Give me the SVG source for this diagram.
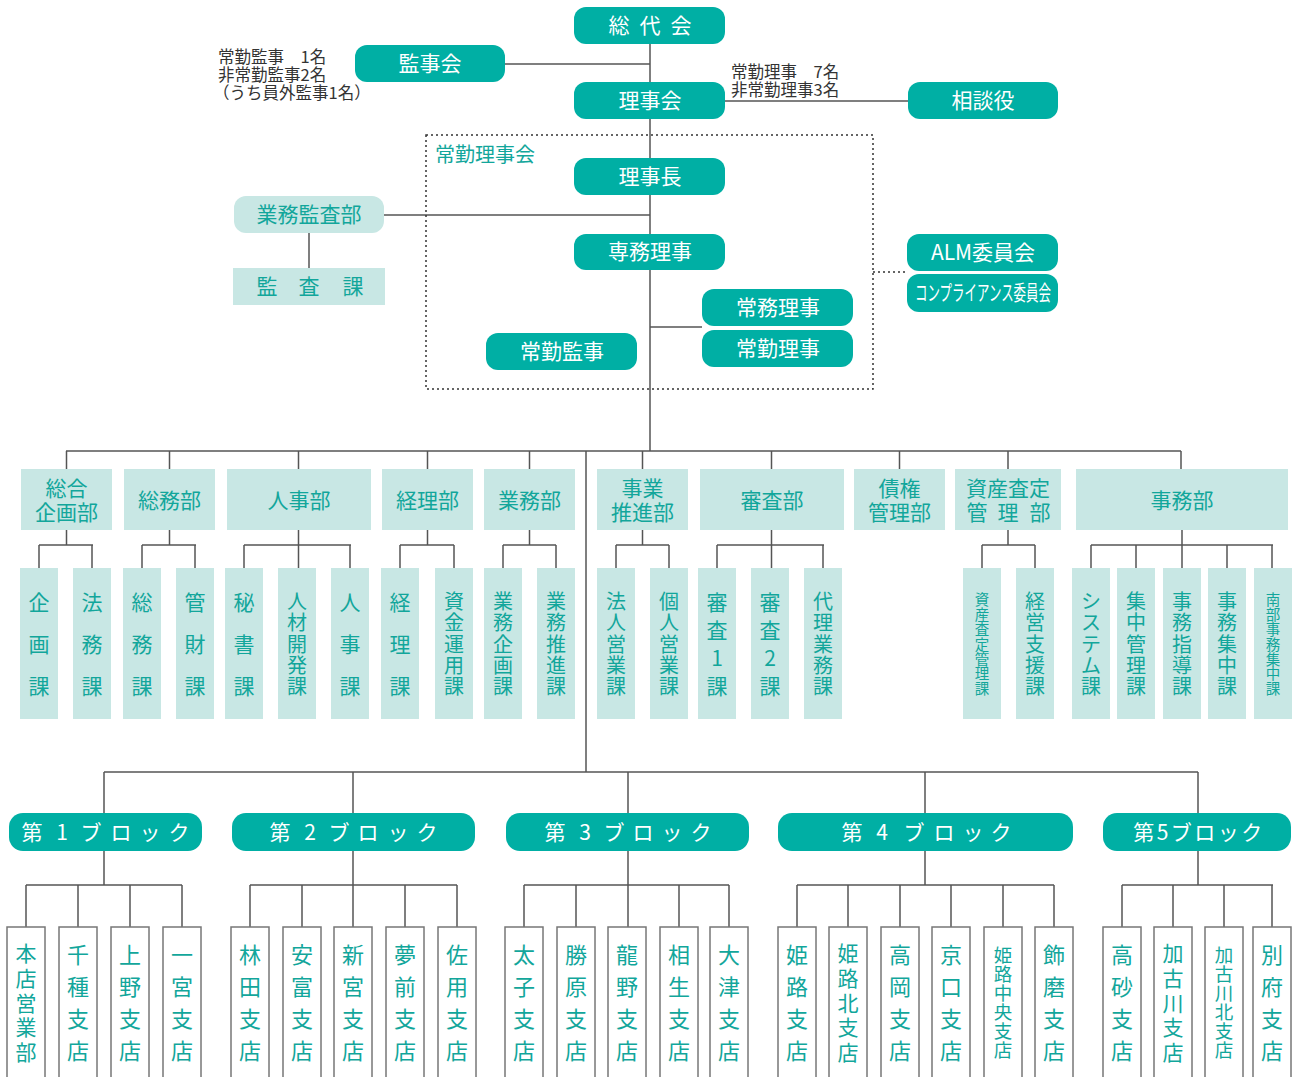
<svg xmlns="http://www.w3.org/2000/svg" width="1294" height="1077" viewBox="0 0 1294 1077">
<style>
text{font-family:"Noto Sans CJK JP","Noto Sans",sans-serif;}
.pill{fill:#00AFA4;}
.pt{fill:#fff;font-size:21px;text-anchor:middle;}
.lite{fill:#C8E7E4;}
.lt{fill:#12A69B;font-size:21px;text-anchor:middle;}
.br{fill:#fff;stroke:#777;stroke-width:1.5;}
.note{fill:#333;font-size:16.5px;}
.ln{stroke:#555;stroke-width:1.5;fill:none;}
.dot{stroke:#333;stroke-width:1.5;fill:none;stroke-dasharray:2 3;}
.s3{font-size:21px;}
.s5{font-size:20px;}
.s7{font-size:14.5px;}
.b4{font-size:22px;}
.b5{font-size:21px;}
.b6{font-size:18.5px;}
</style>
<rect width="1294" height="1077" fill="#fff"/>

<g id="connectors">
<line class="ln" x1="650" y1="44" x2="650" y2="451"/>
<line class="ln" x1="505" y1="64" x2="650" y2="64"/>
<line class="ln" x1="725" y1="101" x2="908" y2="101"/>
<line class="ln" x1="384" y1="215" x2="650" y2="215"/>
<line class="ln" x1="309" y1="233" x2="309" y2="268"/>
<line class="ln" x1="650" y1="327" x2="702" y2="327"/>
<rect class="dot" x="426" y="135" width="447" height="254"/>
<line class="dot" x1="873" y1="272" x2="907" y2="272"/>
<line class="ln" x1="66" y1="451" x2="1181" y2="451"/>
<path class="ln" d="M66.5 451V469M169.5 451V469M298.5 451V469M427.5 451V469M529.5 451V469M642.5 451V469M771.5 451V469M899.5 451V469M1008 451V469M1181 451V469"/>
<line class="ln" x1="586" y1="451" x2="586" y2="772"/>
<path class="ln" d="M66.5 530V545M39 545H93M39 545V568M92 545V568"/>
<path class="ln" d="M169.5 530V545M142 545H196M142 545V568M195 545V568"/>
<path class="ln" d="M298.5 530V568M244 545H351M244 545V568M350 545V568"/>
<path class="ln" d="M427.5 530V545M400 545H454M400 545V568M454 545V568"/>
<path class="ln" d="M529.5 530V545M503 545H556M503 545V568M556 545V568"/>
<path class="ln" d="M642.5 530V545M616 545H669M616 545V568M669 545V568"/>
<path class="ln" d="M771.5 530V568M717 545H824M717 545V568M823 545V568"/>
<path class="ln" d="M1008 530V545M982 545H1035M982 545V568M1035 545V568"/>
<path class="ln" d="M1182 530V568M1091 545H1273M1091 545V568M1136 545V568M1227 545V568M1272 545V568"/>
<line class="ln" x1="104" y1="772" x2="1198" y2="772"/>
<path class="ln" d="M104 772V813M353 772V813M628 772V813M925 772V813M1198 772V813"/>
<path class="ln" d="M104 851V885M26 885H182M26 885V927M78 885V927M130 885V927M182 885V927"/>
<path class="ln" d="M353 851V927M250 885H457M250 885V927M302 885V927M405 885V927M457 885V927"/>
<path class="ln" d="M628 851V927M524 885H729M524 885V927M576 885V927M679 885V927M729 885V927"/>
<path class="ln" d="M925 851V885M797 885H1054M797 885V927M848 885V927M900 885V927M951 885V927M1003 885V927M1054 885V927"/>
<path class="ln" d="M1198 851V885M1122 885H1273M1122 885V927M1173 885V927M1224 885V927M1272 885V927"/>
</g>

<text class="note" x="218" y="63">常勤監事　1名</text>
<text class="note" x="218" y="81">非常勤監事2名</text>
<text class="note" x="213" y="99">（うち員外監事1名）</text>
<text class="note" x="731" y="78">常勤理事　7名</text>
<text class="note" x="731" y="96">非常勤理事3名</text>

<g id="n-sodaikai"><rect class="pill" x="574" y="7" width="151" height="37" rx="12"/><text class="pt"><tspan x="619" y="33">総</tspan><tspan x="650" y="33">代</tspan><tspan x="681" y="33">会</tspan></text></g>
<g id="n-kanjikai"><rect class="pill" x="355" y="45" width="150" height="37" rx="12"/><text class="pt" x="430" y="71">監事会</text></g>
<g id="n-rijikai"><rect class="pill" x="574" y="82" width="151" height="37" rx="12"/><text class="pt" x="650" y="108">理事会</text></g>
<g id="n-sodanyaku"><rect class="pill" x="908" y="82" width="150" height="37" rx="12"/><text class="pt" x="983" y="108">相談役</text></g>
<text x="435" y="162" fill="#12A69B" font-size="20">常勤理事会</text>
<g id="n-rijicho"><rect class="pill" x="574" y="158" width="151" height="37" rx="12"/><text class="pt" x="650" y="184">理事長</text></g>
<g id="n-gyomukansa"><rect class="lite" x="234" y="196" width="150" height="37" rx="12"/><text class="lt" x="309" y="222">業務監査部</text></g>
<g id="n-kansaka"><rect class="lite" x="233" y="268" width="152" height="37"/><text class="lt"><tspan x="267" y="294">監</tspan><tspan x="309" y="294">査</tspan><tspan x="353" y="294">課</tspan></text></g>
<g id="n-senmu"><rect class="pill" x="574" y="234" width="151" height="36" rx="12"/><text class="pt" x="650" y="259">専務理事</text></g>
<g id="n-jomu"><rect class="pill" x="702" y="289" width="151" height="37" rx="12"/><text class="pt" x="778" y="315">常務理事</text></g>
<g id="n-jokinriji"><rect class="pill" x="702" y="330" width="151" height="37" rx="12"/><text class="pt" x="778" y="356">常勤理事</text></g>
<g id="n-jokinkanji"><rect class="pill" x="486" y="333" width="151" height="37" rx="12"/><text class="pt" x="562" y="359">常勤監事</text></g>
<g id="n-alm"><rect class="pill" x="907" y="234" width="151" height="37" rx="12"/><text class="pt" x="983" y="260">ALM委員会</text></g>
<g id="n-comp"><rect class="pill" x="907" y="274" width="151" height="38" rx="12"/><text class="pt" x="983" y="300" font-size="19" textLength="136" lengthAdjust="spacingAndGlyphs">コンプライアンス委員会</text></g>

<g id="d-sogokikaku"><rect class="lite" x="21" y="469" width="91" height="61"/><text class="lt"><tspan x="66.5" y="495.5">総合</tspan><tspan x="66.5" y="519.5">企画部</tspan></text></g>
<g id="d-somu"><rect class="lite" x="124" y="469" width="91" height="61"/><text class="lt" x="169.5" y="507.5">総務部</text></g>
<g id="d-jinji"><rect class="lite" x="227" y="469" width="144" height="61"/><text class="lt" x="299" y="507.5">人事部</text></g>
<g id="d-keiri"><rect class="lite" x="382" y="469" width="91" height="61"/><text class="lt" x="427.5" y="507.5">経理部</text></g>
<g id="d-gyomu"><rect class="lite" x="484" y="469" width="91" height="61"/><text class="lt" x="529.5" y="507.5">業務部</text></g>
<g id="d-jigyo"><rect class="lite" x="597" y="469" width="91" height="61"/><text class="lt"><tspan x="642.5" y="495.5">事業</tspan><tspan x="642.5" y="519.5">推進部</tspan></text></g>
<g id="d-shinsa"><rect class="lite" x="700" y="469" width="144" height="61"/><text class="lt" x="772" y="507.5">審査部</text></g>
<g id="d-saiken"><rect class="lite" x="854" y="469" width="91" height="61"/><text class="lt"><tspan x="899.5" y="495.5">債権</tspan><tspan x="899.5" y="519.5">管理部</tspan></text></g>
<g id="d-shisan"><rect class="lite" x="955" y="469" width="106" height="61"/><text class="lt"><tspan x="1008" y="495.5">資産査定</tspan><tspan x="977" y="519.5">管</tspan><tspan x="1008" y="519.5">理</tspan><tspan x="1040" y="519.5">部</tspan></text></g>
<g id="d-jimu"><rect class="lite" x="1076" y="469" width="212" height="61"/><text class="lt" x="1182" y="507.5">事務部</text></g>

<g id="s1"><rect class="lite" x="20" y="568" width="38" height="151"/><text class="lt s3"><tspan x="39" y="610">企</tspan><tspan x="39" y="652">画</tspan><tspan x="39" y="694">課</tspan></text></g>
<g id="s2"><rect class="lite" x="73" y="568" width="38" height="151"/><text class="lt s3"><tspan x="92" y="610">法</tspan><tspan x="92" y="652">務</tspan><tspan x="92" y="694">課</tspan></text></g>
<g id="s3"><rect class="lite" x="123" y="568" width="38" height="151"/><text class="lt s3"><tspan x="142" y="610">総</tspan><tspan x="142" y="652">務</tspan><tspan x="142" y="694">課</tspan></text></g>
<g id="s4"><rect class="lite" x="176" y="568" width="38" height="151"/><text class="lt s3"><tspan x="195" y="610">管</tspan><tspan x="195" y="652">財</tspan><tspan x="195" y="694">課</tspan></text></g>
<g id="s5"><rect class="lite" x="225" y="568" width="38" height="151"/><text class="lt s3"><tspan x="244" y="610">秘</tspan><tspan x="244" y="652">書</tspan><tspan x="244" y="694">課</tspan></text></g>
<g id="s6"><rect class="lite" x="278" y="568" width="38" height="151"/><text class="lt s5"><tspan x="297" y="609">人</tspan><tspan x="297" y="630">材</tspan><tspan x="297" y="651.5">開</tspan><tspan x="297" y="673">発</tspan><tspan x="297" y="694">課</tspan></text></g>
<g id="s7"><rect class="lite" x="331" y="568" width="38" height="151"/><text class="lt s3"><tspan x="350" y="610">人</tspan><tspan x="350" y="652">事</tspan><tspan x="350" y="694">課</tspan></text></g>
<g id="s8"><rect class="lite" x="381" y="568" width="38" height="151"/><text class="lt s3"><tspan x="400" y="610">経</tspan><tspan x="400" y="652">理</tspan><tspan x="400" y="694">課</tspan></text></g>
<g id="s9"><rect class="lite" x="435" y="568" width="38" height="151"/><text class="lt s5"><tspan x="454" y="609">資</tspan><tspan x="454" y="630">金</tspan><tspan x="454" y="651.5">運</tspan><tspan x="454" y="673">用</tspan><tspan x="454" y="694">課</tspan></text></g>
<g id="s10"><rect class="lite" x="484" y="568" width="38" height="151"/><text class="lt s5"><tspan x="503" y="609">業</tspan><tspan x="503" y="630">務</tspan><tspan x="503" y="651.5">企</tspan><tspan x="503" y="673">画</tspan><tspan x="503" y="694">課</tspan></text></g>
<g id="s11"><rect class="lite" x="537" y="568" width="38" height="151"/><text class="lt s5"><tspan x="556" y="609">業</tspan><tspan x="556" y="630">務</tspan><tspan x="556" y="651.5">推</tspan><tspan x="556" y="673">進</tspan><tspan x="556" y="694">課</tspan></text></g>
<g id="s12"><rect class="lite" x="597" y="568" width="38" height="151"/><text class="lt s5"><tspan x="616" y="609">法</tspan><tspan x="616" y="630">人</tspan><tspan x="616" y="651.5">営</tspan><tspan x="616" y="673">業</tspan><tspan x="616" y="694">課</tspan></text></g>
<g id="s13"><rect class="lite" x="650" y="568" width="38" height="151"/><text class="lt s5"><tspan x="669" y="609">個</tspan><tspan x="669" y="630">人</tspan><tspan x="669" y="651.5">営</tspan><tspan x="669" y="673">業</tspan><tspan x="669" y="694">課</tspan></text></g>
<g id="s14"><rect class="lite" x="698" y="568" width="38" height="151"/><text class="lt s3"><tspan x="717" y="610">審</tspan><tspan x="717" y="638">査</tspan><tspan x="717" y="666">1</tspan><tspan x="717" y="694">課</tspan></text></g>
<g id="s15"><rect class="lite" x="751" y="568" width="38" height="151"/><text class="lt s3"><tspan x="770" y="610">審</tspan><tspan x="770" y="638">査</tspan><tspan x="770" y="666">2</tspan><tspan x="770" y="694">課</tspan></text></g>
<g id="s16"><rect class="lite" x="804" y="568" width="38" height="151"/><text class="lt s5"><tspan x="823" y="609">代</tspan><tspan x="823" y="630">理</tspan><tspan x="823" y="651.5">業</tspan><tspan x="823" y="673">務</tspan><tspan x="823" y="694">課</tspan></text></g>
<g id="s17"><rect class="lite" x="963" y="568" width="38" height="151"/><text class="lt s7"><tspan x="982" y="605">資</tspan><tspan x="982" y="620">産</tspan><tspan x="982" y="635">査</tspan><tspan x="982" y="649.5">定</tspan><tspan x="982" y="664.5">管</tspan><tspan x="982" y="679">理</tspan><tspan x="982" y="694">課</tspan></text></g>
<g id="s18"><rect class="lite" x="1016" y="568" width="38" height="151"/><text class="lt s5"><tspan x="1035" y="609">経</tspan><tspan x="1035" y="630">営</tspan><tspan x="1035" y="651.5">支</tspan><tspan x="1035" y="673">援</tspan><tspan x="1035" y="694">課</tspan></text></g>
<g id="s19"><rect class="lite" x="1072" y="568" width="38" height="151"/><text class="lt s5"><tspan x="1091" y="609">シ</tspan><tspan x="1091" y="630">ス</tspan><tspan x="1091" y="651.5">テ</tspan><tspan x="1091" y="673">ム</tspan><tspan x="1091" y="694">課</tspan></text></g>
<g id="s20"><rect class="lite" x="1117" y="568" width="38" height="151"/><text class="lt s5"><tspan x="1136" y="609">集</tspan><tspan x="1136" y="630">中</tspan><tspan x="1136" y="651.5">管</tspan><tspan x="1136" y="673">理</tspan><tspan x="1136" y="694">課</tspan></text></g>
<g id="s21"><rect class="lite" x="1163" y="568" width="38" height="151"/><text class="lt s5"><tspan x="1182" y="609">事</tspan><tspan x="1182" y="630">務</tspan><tspan x="1182" y="651.5">指</tspan><tspan x="1182" y="673">導</tspan><tspan x="1182" y="694">課</tspan></text></g>
<g id="s22"><rect class="lite" x="1208" y="568" width="38" height="151"/><text class="lt s5"><tspan x="1227" y="609">事</tspan><tspan x="1227" y="630">務</tspan><tspan x="1227" y="651.5">集</tspan><tspan x="1227" y="673">中</tspan><tspan x="1227" y="694">課</tspan></text></g>
<g id="s23"><rect class="lite" x="1254" y="568" width="38" height="151"/><text class="lt s7"><tspan x="1273" y="605">南</tspan><tspan x="1273" y="620">部</tspan><tspan x="1273" y="635">事</tspan><tspan x="1273" y="649.5">務</tspan><tspan x="1273" y="664.5">集</tspan><tspan x="1273" y="679">中</tspan><tspan x="1273" y="694">課</tspan></text></g>

<g id="blk1"><rect class="pill" x="9" y="813" width="193" height="38" rx="14"/><text class="pt" font-size="22"><tspan x="32" y="840">第</tspan><tspan x="62" y="840">1</tspan><tspan x="91" y="840">ブ</tspan><tspan x="121" y="840">ロ</tspan><tspan x="150" y="840">ッ</tspan><tspan x="179" y="840">ク</tspan></text></g>
<g id="blk2"><rect class="pill" x="232" y="813" width="243" height="38" rx="14"/><text class="pt" font-size="22"><tspan x="280" y="840">第</tspan><tspan x="310" y="840">2</tspan><tspan x="339" y="840">ブ</tspan><tspan x="368" y="840">ロ</tspan><tspan x="398" y="840">ッ</tspan><tspan x="427" y="840">ク</tspan></text></g>
<g id="blk3"><rect class="pill" x="506" y="813" width="243" height="38" rx="14"/><text class="pt" font-size="22"><tspan x="555" y="840">第</tspan><tspan x="585" y="840">3</tspan><tspan x="614" y="840">ブ</tspan><tspan x="643" y="840">ロ</tspan><tspan x="672" y="840">ッ</tspan><tspan x="701" y="840">ク</tspan></text></g>
<g id="blk4"><rect class="pill" x="778" y="813" width="295" height="38" rx="14"/><text class="pt" font-size="22"><tspan x="852" y="840">第</tspan><tspan x="882" y="840">4</tspan><tspan x="914" y="840">ブ</tspan><tspan x="944" y="840">ロ</tspan><tspan x="973" y="840">ッ</tspan><tspan x="1001" y="840">ク</tspan></text></g>
<g id="blk5"><rect class="pill" x="1103" y="813" width="188" height="38" rx="14"/><text class="pt" font-size="22" x="1199" y="840" letter-spacing="2.5">第5ブロック</text></g>

<g id="b1"><rect class="br" x="7" y="927" width="38" height="160"/><text class="lt b5"><tspan x="26" y="960.5">本</tspan><tspan x="26" y="985.5">店</tspan><tspan x="26" y="1010.5">営</tspan><tspan x="26" y="1034.5">業</tspan><tspan x="26" y="1059.5">部</tspan></text></g>
<g id="b2"><rect class="br" x="59" y="927" width="38" height="160"/><text class="lt b4"><tspan x="78" y="963">千</tspan><tspan x="78" y="995">種</tspan><tspan x="78" y="1027">支</tspan><tspan x="78" y="1059">店</tspan></text></g>
<g id="b3"><rect class="br" x="111" y="927" width="38" height="160"/><text class="lt b4"><tspan x="130" y="963">上</tspan><tspan x="130" y="995">野</tspan><tspan x="130" y="1027">支</tspan><tspan x="130" y="1059">店</tspan></text></g>
<g id="b4"><rect class="br" x="163" y="927" width="38" height="160"/><text class="lt b4"><tspan x="182" y="963">一</tspan><tspan x="182" y="995">宮</tspan><tspan x="182" y="1027">支</tspan><tspan x="182" y="1059">店</tspan></text></g>
<g id="b5"><rect class="br" x="231" y="927" width="38" height="160"/><text class="lt b4"><tspan x="250" y="963">林</tspan><tspan x="250" y="995">田</tspan><tspan x="250" y="1027">支</tspan><tspan x="250" y="1059">店</tspan></text></g>
<g id="b6"><rect class="br" x="283" y="927" width="38" height="160"/><text class="lt b4"><tspan x="302" y="963">安</tspan><tspan x="302" y="995">富</tspan><tspan x="302" y="1027">支</tspan><tspan x="302" y="1059">店</tspan></text></g>
<g id="b7"><rect class="br" x="334" y="927" width="38" height="160"/><text class="lt b4"><tspan x="353" y="963">新</tspan><tspan x="353" y="995">宮</tspan><tspan x="353" y="1027">支</tspan><tspan x="353" y="1059">店</tspan></text></g>
<g id="b8"><rect class="br" x="386" y="927" width="38" height="160"/><text class="lt b4"><tspan x="405" y="963">夢</tspan><tspan x="405" y="995">前</tspan><tspan x="405" y="1027">支</tspan><tspan x="405" y="1059">店</tspan></text></g>
<g id="b9"><rect class="br" x="438" y="927" width="38" height="160"/><text class="lt b4"><tspan x="457" y="963">佐</tspan><tspan x="457" y="995">用</tspan><tspan x="457" y="1027">支</tspan><tspan x="457" y="1059">店</tspan></text></g>
<g id="b10"><rect class="br" x="505" y="927" width="38" height="160"/><text class="lt b4"><tspan x="524" y="963">太</tspan><tspan x="524" y="995">子</tspan><tspan x="524" y="1027">支</tspan><tspan x="524" y="1059">店</tspan></text></g>
<g id="b11"><rect class="br" x="557" y="927" width="38" height="160"/><text class="lt b4"><tspan x="576" y="963">勝</tspan><tspan x="576" y="995">原</tspan><tspan x="576" y="1027">支</tspan><tspan x="576" y="1059">店</tspan></text></g>
<g id="b12"><rect class="br" x="608" y="927" width="38" height="160"/><text class="lt b4"><tspan x="627" y="963">龍</tspan><tspan x="627" y="995">野</tspan><tspan x="627" y="1027">支</tspan><tspan x="627" y="1059">店</tspan></text></g>
<g id="b13"><rect class="br" x="660" y="927" width="38" height="160"/><text class="lt b4"><tspan x="679" y="963">相</tspan><tspan x="679" y="995">生</tspan><tspan x="679" y="1027">支</tspan><tspan x="679" y="1059">店</tspan></text></g>
<g id="b14"><rect class="br" x="710" y="927" width="38" height="160"/><text class="lt b4"><tspan x="729" y="963">大</tspan><tspan x="729" y="995">津</tspan><tspan x="729" y="1027">支</tspan><tspan x="729" y="1059">店</tspan></text></g>
<g id="b15"><rect class="br" x="778" y="927" width="38" height="160"/><text class="lt b4"><tspan x="797" y="963">姫</tspan><tspan x="797" y="995">路</tspan><tspan x="797" y="1027">支</tspan><tspan x="797" y="1059">店</tspan></text></g>
<g id="b16"><rect class="br" x="829" y="927" width="38" height="160"/><text class="lt b5"><tspan x="848" y="960.5">姫</tspan><tspan x="848" y="985.5">路</tspan><tspan x="848" y="1010.5">北</tspan><tspan x="848" y="1034.5">支</tspan><tspan x="848" y="1059.5">店</tspan></text></g>
<g id="b17"><rect class="br" x="881" y="927" width="38" height="160"/><text class="lt b4"><tspan x="900" y="963">高</tspan><tspan x="900" y="995">岡</tspan><tspan x="900" y="1027">支</tspan><tspan x="900" y="1059">店</tspan></text></g>
<g id="b18"><rect class="br" x="932" y="927" width="38" height="160"/><text class="lt b4"><tspan x="951" y="963">京</tspan><tspan x="951" y="995">口</tspan><tspan x="951" y="1027">支</tspan><tspan x="951" y="1059">店</tspan></text></g>
<g id="b19"><rect class="br" x="984" y="927" width="38" height="160"/><text class="lt b6"><tspan x="1003" y="962">姫</tspan><tspan x="1003" y="981">路</tspan><tspan x="1003" y="1000">中</tspan><tspan x="1003" y="1019">央</tspan><tspan x="1003" y="1038">支</tspan><tspan x="1003" y="1057">店</tspan></text></g>
<g id="b20"><rect class="br" x="1035" y="927" width="38" height="160"/><text class="lt b4"><tspan x="1054" y="963">飾</tspan><tspan x="1054" y="995">磨</tspan><tspan x="1054" y="1027">支</tspan><tspan x="1054" y="1059">店</tspan></text></g>
<g id="b21"><rect class="br" x="1103" y="927" width="38" height="160"/><text class="lt b4"><tspan x="1122" y="963">高</tspan><tspan x="1122" y="995">砂</tspan><tspan x="1122" y="1027">支</tspan><tspan x="1122" y="1059">店</tspan></text></g>
<g id="b22"><rect class="br" x="1154" y="927" width="38" height="160"/><text class="lt b5"><tspan x="1173" y="960.5">加</tspan><tspan x="1173" y="985.5">古</tspan><tspan x="1173" y="1010.5">川</tspan><tspan x="1173" y="1034.5">支</tspan><tspan x="1173" y="1059.5">店</tspan></text></g>
<g id="b23"><rect class="br" x="1205" y="927" width="38" height="160"/><text class="lt b6"><tspan x="1224" y="962">加</tspan><tspan x="1224" y="981">古</tspan><tspan x="1224" y="1000">川</tspan><tspan x="1224" y="1019">北</tspan><tspan x="1224" y="1038">支</tspan><tspan x="1224" y="1057">店</tspan></text></g>
<g id="b24"><rect class="br" x="1253" y="927" width="38" height="160"/><text class="lt b4"><tspan x="1272" y="963">別</tspan><tspan x="1272" y="995">府</tspan><tspan x="1272" y="1027">支</tspan><tspan x="1272" y="1059">店</tspan></text></g>
</svg>
